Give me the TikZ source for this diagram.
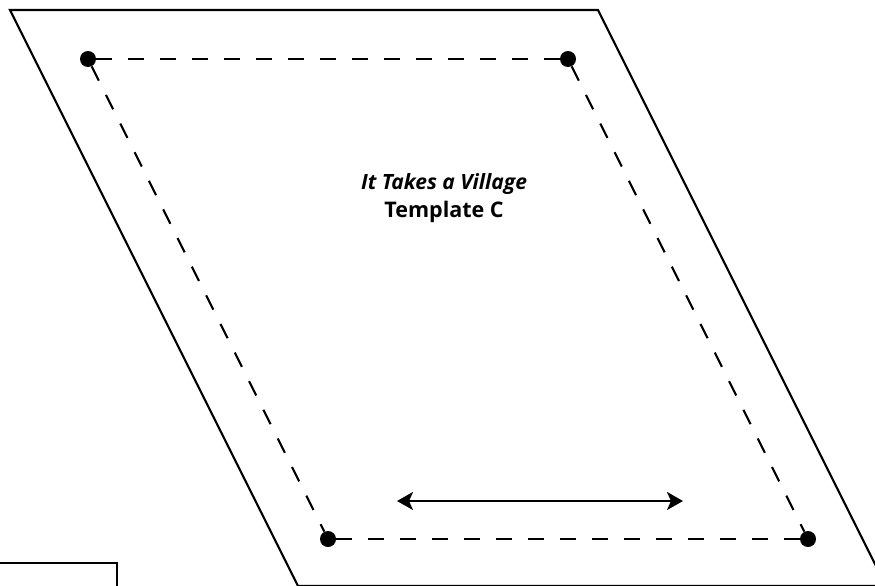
\documentclass[tikz,border=0pt]{standalone}
\usepackage{fontspec}
\setmainfont{Open Sans}
\usetikzlibrary{arrows.meta,positioning}
\tikzstyle{cutLine} = [draw, line width=2.2pt, line join=miter]
\tikzstyle{seamLine} = [draw, line width=2.2pt, dash pattern=on 16pt off 16pt]
\tikzstyle{cornerDot} = [shape = circle, fill, inner sep=0pt, minimum size=16pt]
\tikzstyle{grainArrow} = [{Stealth[length=16pt,width=18pt,inset=4pt]}-{Stealth[length=16pt,width=18pt,inset=4pt]}, line width=2pt]

\begin{document}
\begin{tikzpicture}[x=1pt, y=-1pt]
			\useasboundingbox (0,0) rectangle (875,586);
			\clip (0,0) rectangle (875,586);
			% outer cutting line
			\coordinate (outNW) at (10,10);
			\coordinate (outNE) at (598,10);
			\coordinate (outSE) at (886,586);
			\coordinate (outSW) at (298,586);
			\draw[cutLine] (outNW) -- (outNE) -- (outSE) -- (outSW) -- cycle;
			% box in the lower left corner
			\coordinate (boxNE) at (117,563);
			\draw[cutLine] (-10,563) -- (boxNE) -- (117,600);
			% seam corners
			\node (dotNW) at (88,59) [cornerDot] {};
			\node (dotNE) at (568,59) [cornerDot] {};
			\node (dotSE) at (808,539) [cornerDot] {};
			\node (dotSW) at (328,539) [cornerDot] {};
			\draw[seamLine] (dotNW) -- (dotNE);
			\draw[seamLine] (dotNE) -- (dotSE);
			\draw[seamLine] (dotSW) -- (dotSE);
			\draw[seamLine] (dotNW) -- (dotSW);
			% labels
			\node (title) at (444,189) [anchor=base, font=\fontsize{21}{21}\selectfont\bfseries\itshape] {It Takes a Village};
			\node (name) at (444,217) [anchor=base, font=\fontsize{21.5}{21.5}\selectfont\bfseries] {Template C};
			% grain line
			\coordinate (grainL) at (397,501);
			\coordinate (grainR) at (683,501);
			\draw[grainArrow] (grainL) -- (grainR);
			\end{tikzpicture}
\end{document}
